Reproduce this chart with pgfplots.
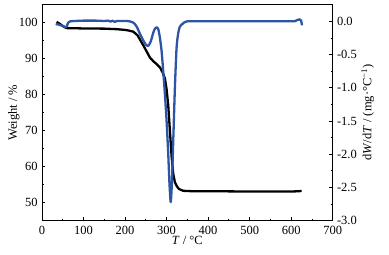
\documentclass[border=0pt]{standalone}
\usepackage{pgfplots}
\pgfplotsset{compat=1.18}
\usepackage{fontspec}
\setmainfont{Liberation Serif}
\definecolor{dtgblue}{RGB}{45,85,165}
\begin{document}
\fontsize{12.5}{14}\selectfont
\begin{tikzpicture}
\pgfplotsset{
  every axis/.append style={
    scale only axis, width=290.7pt, height=216pt,
    xmin=0, xmax=700,
    axis line style={line width=0.9pt},
    tick style={line width=0.8pt, black},
    major tick length=3.3pt, minor tick length=2pt,
    tick align=inside,
    /pgf/number format/assume math mode=true,
    tick label style={font=\fontsize{12.5}{14}\selectfont},
    label style={font=\fontsize{12.5}{14}\selectfont},
  }
}
\begin{axis}[name=main,
  ymin=45, ymax=105,
  xtick={0,100,...,700}, minor x tick num=1,
  ytick={50,60,...,100}, minor y tick num=1,
  xtick pos=lower, ytick pos=left,
  xticklabel style={yshift=-1pt},
  xlabel={\textit{T} / °C},
  xlabel style={at={(axis description cs:0.5,0)}, anchor=center, yshift=-19.5pt},
  ylabel={Weight / \%},
  ylabel style={at={(axis description cs:0,0.5)}, anchor=center, yshift=28pt},
]
\addplot[black, line width=2.3pt, line join=round] coordinates {
(35,100.2)(40,99.9)(45,99.5)(50,99.1)(55,98.7)(60,98.5)(80,98.45)(100,98.4)
(150,98.35)(180,98.2)(200,98.0)(210,97.8)(220,97.5)(230,96.5)(236,95.3)
(245,93.5)(252,92.0)(260,90.3)(268,89.3)(276,88.5)(284,87.6)(290,86.3)
(296,84.5)(300,81.5)(304,77)(308,70)(312,63)(316,58)(320,55.7)(325,54.5)
(330,53.8)(340,53.3)(360,53.2)(400,53.2)(500,53.1)(600,53.1)(620,53.2)(625,53.3)
};
\end{axis}
\begin{axis}[
  ymin=-3, ymax=0.25,
  xtick=\empty,
  axis x line=none,
  axis y line*=right,
  ytick={-3,-2.5,...,0}, minor y tick num=1,
  yticklabel style={/pgf/number format/.cd, fixed, fixed zerofill, precision=1},
  ylabel={d\textit{W}/d\textit{T} / (mg·°C\textsuperscript{−1})},
  ylabel style={at={(axis description cs:1,0.5)}, anchor=center, yshift=-35pt},
]
\addplot[dtgblue, line width=2.3pt, line join=round, smooth, tension=0.4] coordinates {
(33,-0.04)(40,-0.05)(50,-0.07)(57,-0.09)(60,-0.07)(63,-0.02)(68,0.0)(80,0.005)
(100,0.01)(130,0.01)(150,0.005)(160,0.01)(165,-0.005)(170,0.01)(175,-0.01)
(180,0.005)(200,0.005)(210,0.0)(220,-0.02)(228,-0.08)(236,-0.19)(244,-0.29)
(250,-0.35)(256,-0.37)(262,-0.3)(268,-0.17)(272,-0.11)(276,-0.09)(280,-0.12)
(284,-0.25)(288,-0.45)(292,-0.76)(296,-1.1)(300,-1.5)(304,-2.0)(307,-2.45)
(310,-2.72)(313,-2.4)(316,-1.8)(320,-1.0)(324,-0.4)(328,-0.18)(332,-0.08)
(340,-0.03)(350,0.0)(400,0.0)(500,0.0)(600,0.0)(610,0.005)(615,0.02)(620,0.03)
(624,0.01)(626,-0.06)
};
\end{axis}
\path ([xshift=-42pt,yshift=-34.3pt]main.south west) rectangle ([xshift=56.3pt,yshift=4.7pt]main.north east);
\end{tikzpicture}
\end{document}
